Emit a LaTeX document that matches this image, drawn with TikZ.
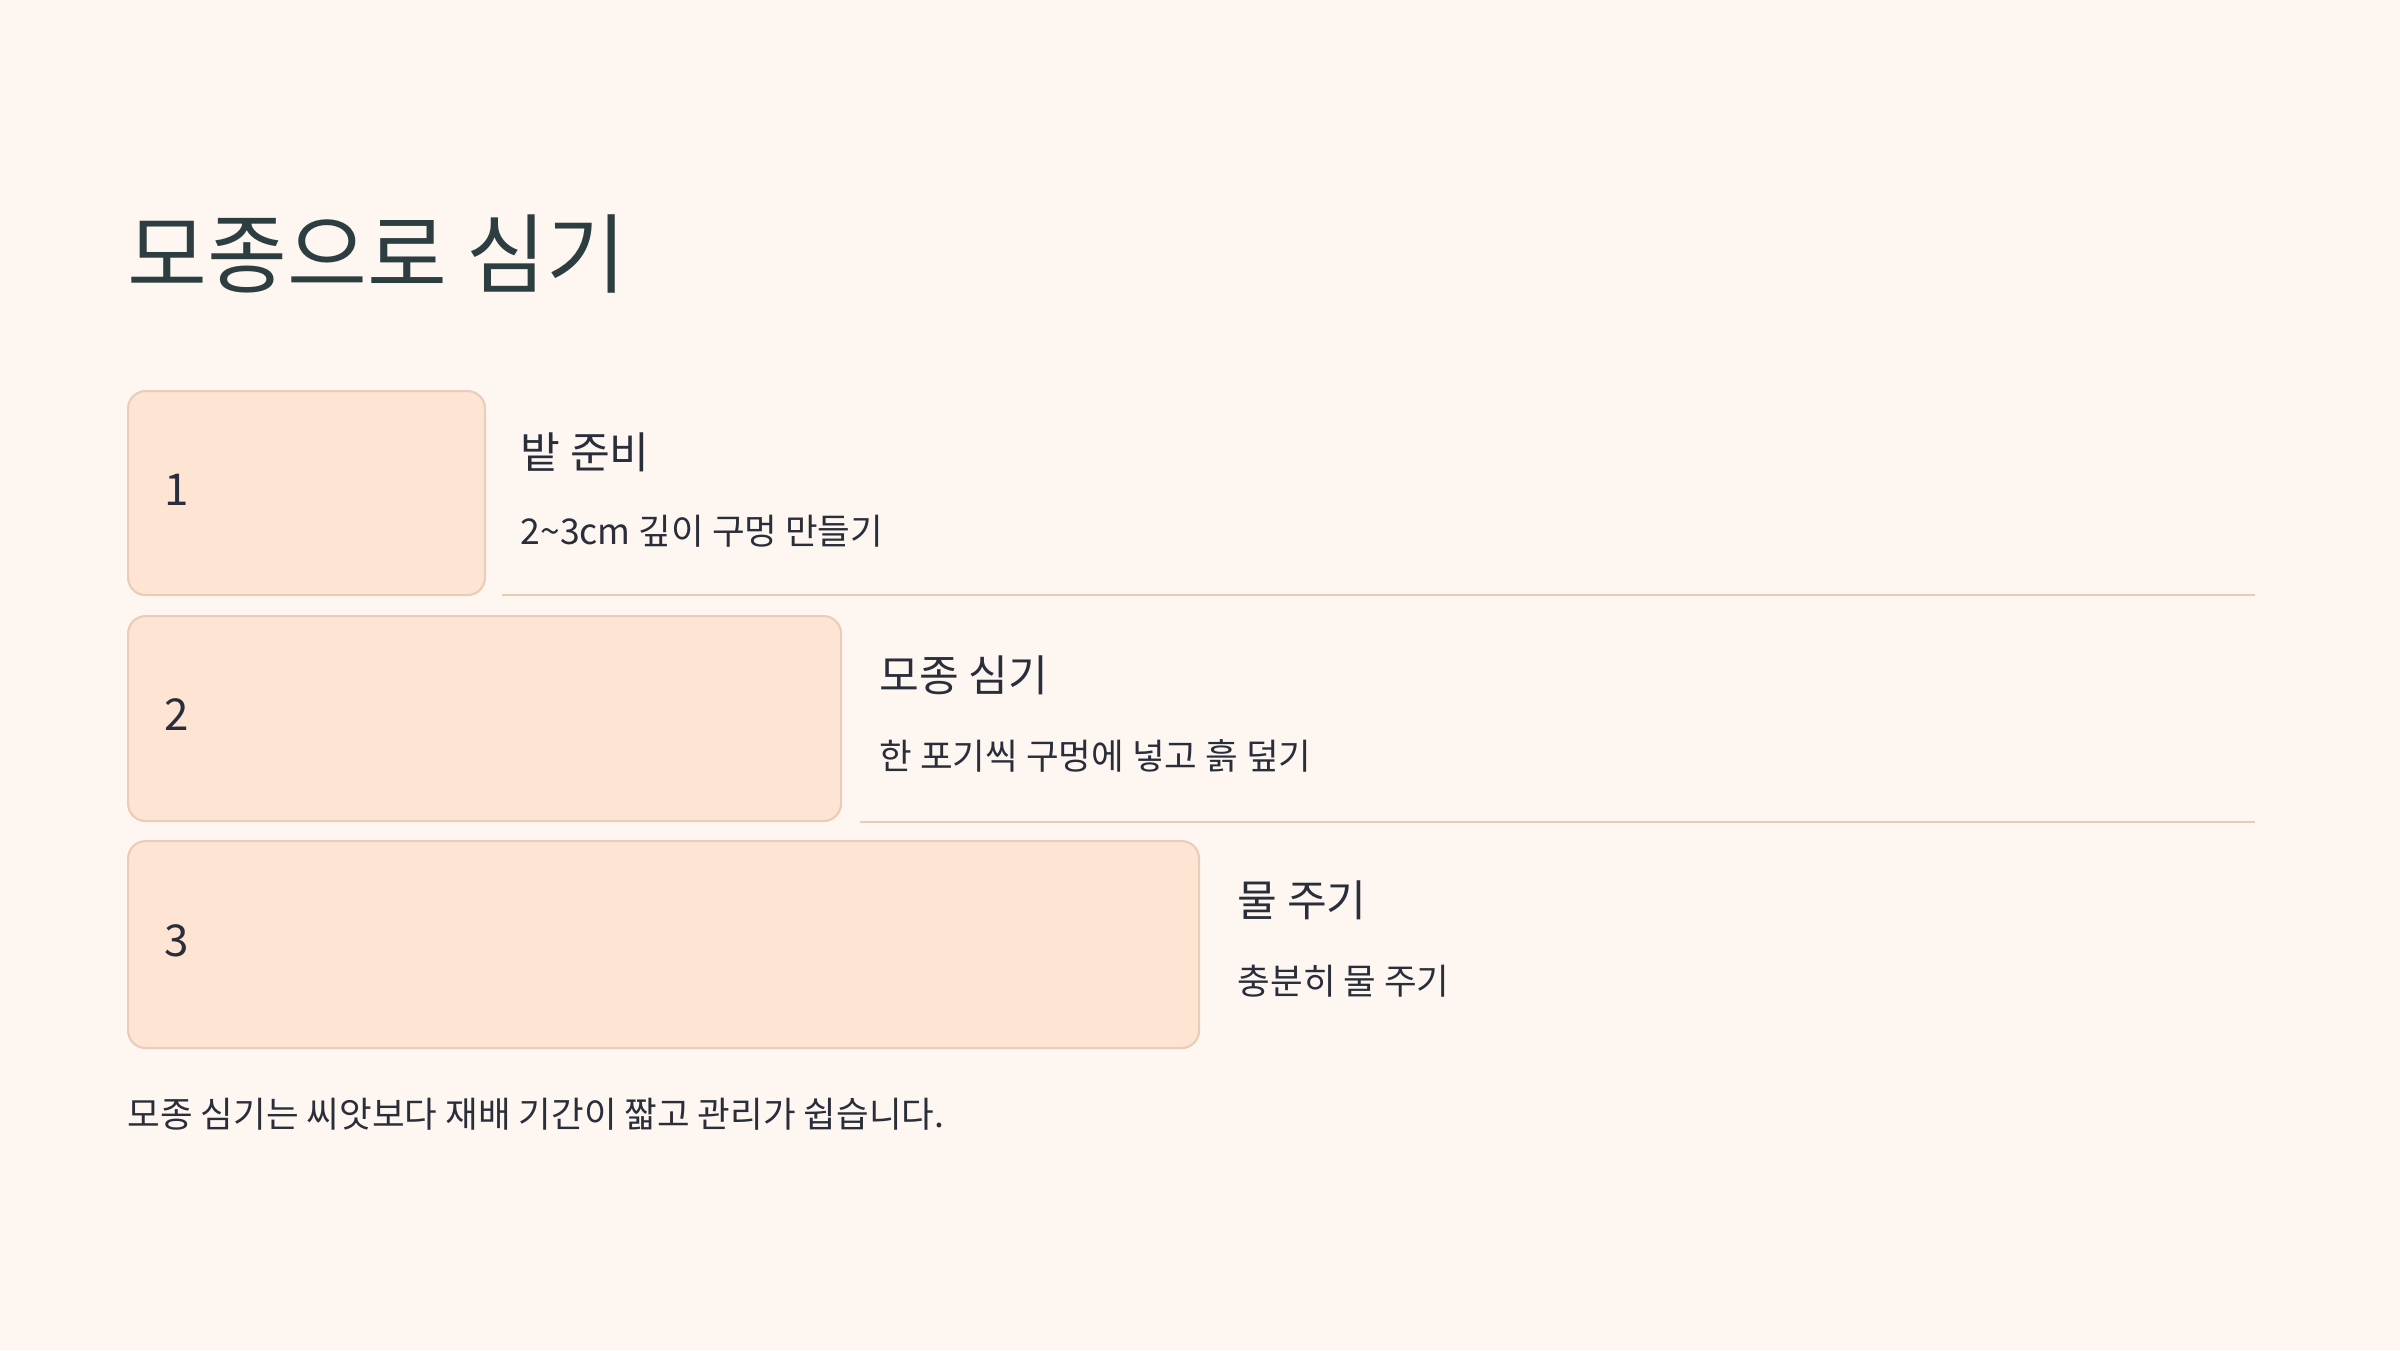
\documentclass[tikz,border=0pt]{standalone}
\usepackage{fontspec}
\setmainfont{Noto Sans CJK KR}
\usepackage{xcolor}
\definecolor{pagebg}{HTML}{FEF7F1}
\definecolor{stepfill}{HTML}{FDE4D3}
\definecolor{stepline}{HTML}{EACDB8}
\definecolor{ruleline}{HTML}{E6CDB6}
\definecolor{titleink}{HTML}{2D3E40}
\definecolor{textink}{HTML}{2A2E3A}
\tikzset{stepbox/.style={draw=stepline, fill=stepfill, line width=0.6pt,
   rounded corners=5pt, anchor=north west, inner sep=0pt},
 stepnum/.style={anchor=west, inner sep=0pt, text=textink, font=\fontsize{12.5pt}{15pt}\selectfont},
 stephead/.style={anchor=west, inner sep=0pt, text=textink, font=\fontsize{12.3pt}{15pt}\selectfont},
 stepdesc/.style={anchor=west, inner sep=0pt, text=textink, font=\fontsize{10.1pt}{13pt}\selectfont},
 sepline/.style={draw=ruleline, line width=0.7pt},
 }

\begin{document}
\begin{tikzpicture}
        \fill[pagebg] (0,0) rectangle (24,-13.5);
        \useasboundingbox (0,0) rectangle (24,-13.5);
        \node[anchor=west, inner sep=0pt, text=titleink,
            font=\fontsize{24.7pt}{30pt}\selectfont] (title) at (1.27,-2.54) {모종으로 심기};
        % step boxes
        \node[stepbox, minimum width=3.57cm, minimum height=2.04cm] (box1) at (1.27,-3.90) {};
        \node[stepbox, minimum width=7.13cm, minimum height=2.05cm] (box2) at (1.27,-6.15) {};
        \node[stepbox, minimum width=10.71cm, minimum height=2.07cm] (box3) at (1.27,-8.40) {};
        \node[stepnum] (num1) at (1.64,-4.90) {1};
        \node[stepnum] (num2) at (1.64,-7.15) {2};
        \node[stepnum] (num3) at (1.64,-9.41) {3};
        % headings and descriptions
        \node[stephead] (head1) at (5.20,-4.52) {밭 준비};
        \node[stepdesc] (desc1) at (5.20,-5.31) {2\textasciitilde3cm 깊이 구멍 만들기};
        \node[stephead] (head2) at (8.79,-6.75) {모종 심기};
        \node[stepdesc] (desc2) at (8.79,-7.56) {한 포기씩 구멍에 넣고 흙 덮기};
        \node[stephead] (head3) at (12.37,-9.00) {물 주기};
        \node[stepdesc] (desc3) at (12.37,-9.81) {충분히 물 주기};
        % separators
        \coordinate (sep1a) at (5.02,-5.95);
        \coordinate (sep1b) at (22.55,-5.95);
        \coordinate (sep2a) at (8.60,-8.22);
        \coordinate (sep2b) at (22.55,-8.22);
        \draw[sepline] (sep1a) -- (sep1b);
        \draw[sepline] (sep2a) -- (sep2b);
        \node[stepdesc] (note) at (1.27,-11.14) {모종 심기는 씨앗보다 재배 기간이 짧고 관리가 쉽습니다.};
    \end{tikzpicture}
\end{document}
